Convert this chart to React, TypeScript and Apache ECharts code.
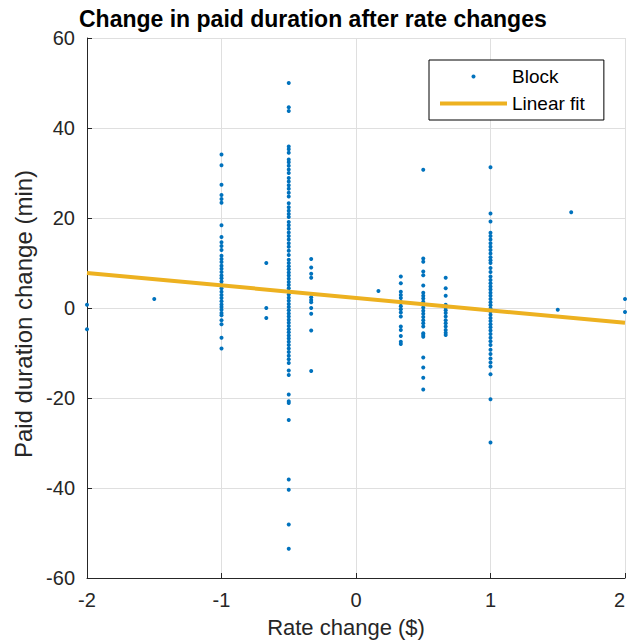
import React, { useEffect, useRef } from "react";
import * as echarts from "echarts";

// Rate-change columns (x, $) and the paid-duration changes (min) observed at each
const xMinus2 = -2;
const yMinus2 = [0.7, -4.7];
const xMinus15 = -1.5;
const yMinus15 = [2];
const xMinus1 = -1;
const yMinus1 = [34.1, 31.7, 27.4, 25.1, 24.2, 23.4, 18.4, 15.8, 14.6, 13.8, 12.9, 11.6, 10.9, 10.2, 9.4, 8.7, 8.0, 7.2, 6.6, 5.9, 5.1, 4.4, 3.6, 2.9, 2.2, 1.5, 0.8, 0.2, -0.4, -1.1, -1.6, -2.7, -3.6, -6.6, -9];
const xMinus067 = -0.667;
const yMinus067 = [10, 0, -2.2];
const xMinus05 = -0.5;
const yMinus05 = [50, 44.6, 43.8, 35.9, 35.3, 34.5, 33, 32.4, 31.6, 30.8, 30, 28.9, 28.1, 27.3, 26.5, 25.6, 24.8, 23.3, 22.4, 21.6, 20.9, 20.2, 19.1, 18.4, 17.6, 16.8, 16, 15.2, 14.4, 13.6, 12.7, 11.8, 10.7, 10.0, 9.3, 8.6, 7.9, 7.2, 6.5, 5.8, 5.1, 4.4, 3.7, 3.0, 2.3, 1.6, 0.9, 0.2, -0.5, -1.2, -1.9, -2.6, -3.3, -4.0, -4.7, -5.4, -6.1, -6.8, -7.5, -8.2, -9.0, -9.8, -10.6, -11.4, -12.2, -13.9, -14.9, -19.2, -20.7, -21.1, -24.9, -38.1, -40.4, -48.1, -53.5];
const xMinus033 = -0.333;
const yMinus033 = [10.9, 9, 7.6, 6.7, 2.4, 1.8, 1.3, 0, -1.3, -5, -14];
const x0167 = 0.167;
const y0167 = [3.8];
const x0333 = 0.333;
const y0333 = [7, 5.5, 3.6, 2.9, 2.2, 1.4, 1.1, 0.4, -0.3, -1.0, -1.9, -4.1, -4.9, -6.2, -7.5, -8];
const x05 = 0.5;
const y05 = [30.7, 11, 10.3, 8.1, 7.3, 5, 3.4, 2.7, 2.1, 1.4, 0.8, 0.1, -0.6, -1.3, -2.0, -2.7, -3.4, -4.1, -5.6, -6, -6.4, -11, -13.2, -15.5, -18.1];
const x0667 = 0.667;
const y0667 = [6.7, 4.4, 2.7, 0.7, 0.1, -0.5, -1.1, -1.9, -2.7, -3.4, -4.1, -4.9, -5.5, -6];
const x1 = 1;
const y1 = [31.3, 21, 19.2, 16.7, 16, 15.2, 14.4, 13.6, 12.9, 12.1, 11.3, 10.6, 10, 8.9, 8, 7, 6.2, 5.5, 4.8, 4.1, 3.4, 2.7, 2.0, 1.3, 0.6, -0.1, -0.8, -1.5, -2.2, -2.9, -3.6, -4.3, -5.0, -5.8, -6.6, -7.4, -8.2, -9.3, -10.2, -11.2, -12.1, -13, -14.7, -20.3, -29.9];
const x15 = 1.5;
const y15 = [-0.4];
const x16 = 1.6;
const y16 = [21.3];
const x2 = 2;
const y2 = [2, -0.9];

// Linear fit endpoints
const fitX = [-2, 2];
const fitY = [7.8, -3.3];

const columns: [number, number[]][] = [
  [xMinus2, yMinus2],
  [xMinus15, yMinus15],
  [xMinus1, yMinus1],
  [xMinus067, yMinus067],
  [xMinus05, yMinus05],
  [xMinus033, yMinus033],
  [x0167, y0167],
  [x0333, y0333],
  [x05, y05],
  [x0667, y0667],
  [x1, y1],
  [x15, y15],
  [x16, y16],
  [x2, y2],
];

const FONT = "Liberation Sans, Arial, Helvetica, sans-serif";
const AX = "#262626";

export default function App() {
  const ref = useRef<HTMLDivElement>(null);
  useEffect(() => {
    if (!ref.current) return;
    const chart = echarts.init(ref.current, null, { renderer: "svg" });
    const blockData: number[][] = [];
    columns.forEach(([x, ys]) => ys.forEach((y) => blockData.push([x, y])));
    const fitData = fitX.map((x, i) => [x, fitY[i]]);
    chart.setOption({
      animation: false,
      backgroundColor: "#ffffff",
      textStyle: { fontFamily: FONT },
      title: {
        text: "Change in paid duration after rate changes",
        left: 79,
        top: 7,
        padding: 0,
        textStyle: { fontFamily: FONT, fontSize: 23, fontWeight: "bold", color: "#000" },
      },
      legend: {
        orient: "vertical",
        left: 429,
        top: 60,
        padding: [7, 19, 7, 11],
        itemGap: 8,
        itemWidth: 67,
        itemHeight: 4,
        borderColor: "#000",
        borderWidth: 1,
        backgroundColor: "#fff",
        borderRadius: 0,
        textStyle: { fontFamily: FONT, fontSize: 19, color: "#000", lineHeight: 19 },
        data: [
          { name: "Block", icon: "circle" },
          { name: "Linear fit", icon: "rect" },
        ],
      },
      grid: { left: 87, right: 4, top: 38, bottom: 63, containLabel: false, outerBoundsMode: "none" },
      xAxis: {
        type: "value",
        min: -2,
        max: 2,
        interval: 1,
        name: "Rate change ($)",
        nameLocation: "middle",
        nameGap: 38,
        nameTextStyle: { fontFamily: FONT, fontSize: 22, color: AX, padding: [0, 20, 0, 0] },
        axisLine: { show: true, onZero: false, lineStyle: { color: AX, width: 1 } },
        axisTick: { show: true, inside: true, length: 5, lineStyle: { color: AX } },
        axisLabel: { fontFamily: FONT, fontSize: 20, color: AX, margin: 12, alignMaxLabel: "right" },
        splitLine: { show: true, lineStyle: { color: "#dfdfdf", width: 1 } },
      },
      yAxis: {
        type: "value",
        min: -60,
        max: 60,
        interval: 20,
        name: "Paid duration change (min)",
        nameLocation: "middle",
        nameGap: 50,
        nameTextStyle: { fontFamily: FONT, fontSize: 24, color: AX, padding: [0, 12, 0, 0] },
        axisLine: { show: true, onZero: false, lineStyle: { color: AX, width: 1 } },
        axisTick: { show: true, inside: true, length: 5, lineStyle: { color: AX } },
        axisLabel: { fontFamily: FONT, fontSize: 20, color: AX, margin: 12 },
        splitLine: { show: true, lineStyle: { color: "#dfdfdf", width: 1 } },
      },
      series: [
        {
          name: "Block",
          type: "scatter",
          data: blockData,
          symbol: "circle",
          symbolSize: 4,
          itemStyle: { color: "#0072BD", opacity: 1 },
          z: 2,
        },
        {
          name: "Linear fit",
          type: "line",
          data: fitData,
          showSymbol: false,
          symbol: "none",
          lineStyle: { color: "#EDB120", width: 4 },
          itemStyle: { color: "#EDB120" },
          z: 3,
        },
      ],
    });
    return () => chart.dispose();
  }, []);
  return (
    <div
      ref={ref}
      style={{ position: "fixed", left: 0, top: 0, width: 629, height: 641, background: "#fff" }}
    />
  );
}
